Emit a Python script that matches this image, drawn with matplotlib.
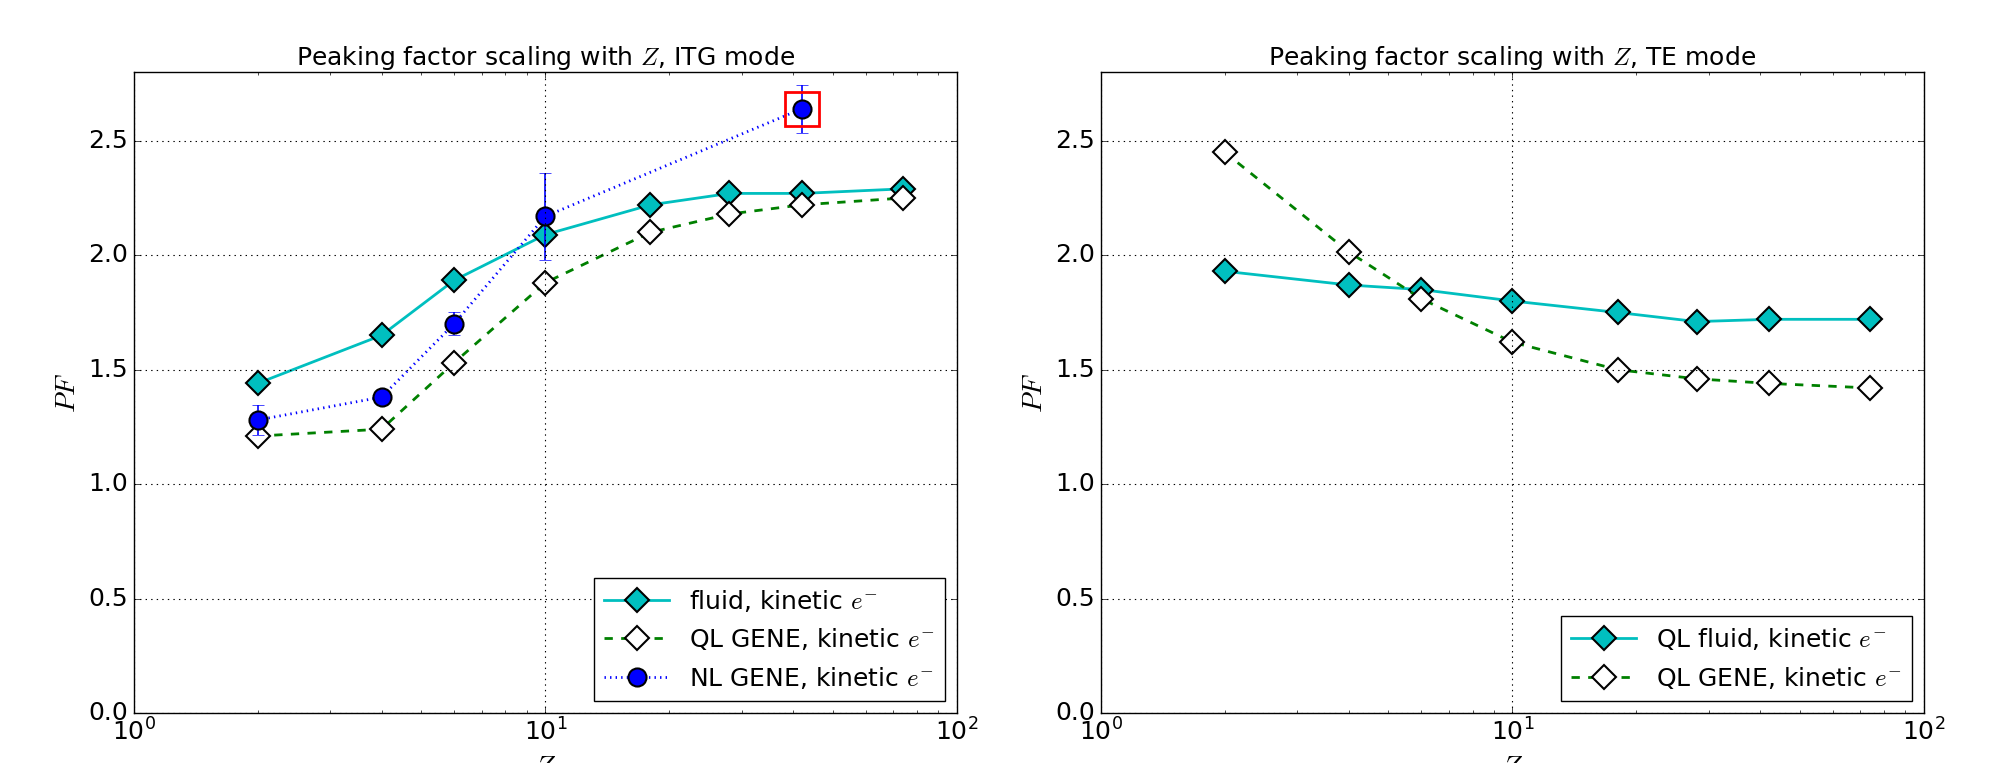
import numpy as np
import matplotlib
matplotlib.use('Agg')
import matplotlib.pyplot as plt

plt.style.use('classic')
plt.rcParams['figure.facecolor'] = 'white'
plt.rcParams['savefig.facecolor'] = 'white'
plt.rcParams['mathtext.fontset'] = 'cm'
plt.rcParams['font.family'] = ['DejaVu Sans']

# impurity charge numbers
Z = [2, 4, 6, 10, 18, 28, 42, 74]

# ITG mode
itg_fluid = [1.44, 1.65, 1.89, 2.09, 2.22, 2.27, 2.27, 2.29]
itg_ql = [1.21, 1.24, 1.53, 1.88, 2.10, 2.18, 2.22, 2.25]
Z_nl = [2, 4, 6, 10, 42]
itg_nl = [1.28, 1.38, 1.70, 2.17, 2.64]
itg_nl_err = [0.065, 0.02, 0.05, 0.19, 0.105]
Z_box = [42]
pf_box = [2.64]

# TE mode
te_fluid = [1.93, 1.87, 1.85, 1.80, 1.75, 1.71, 1.72, 1.72]
te_ql = [2.45, 2.015, 1.81, 1.62, 1.50, 1.46, 1.44, 1.42]

fig = plt.figure(figsize=(19.94, 7.63), dpi=100)
ax1 = fig.add_axes([0.067, 0.0655, 0.413, 0.84])
ax2 = fig.add_axes([0.552, 0.0655, 0.413, 0.84])

fs = 18
ms_d = 12
ms_o = 13

ax1.plot(Z, itg_fluid, 'c-', marker='D', mfc='c', mec='k', mew=1.5, ms=ms_d, lw=2,
         label=r'fluid, kinetic $e^{-}$')
ax1.plot(Z, itg_ql, 'g--', marker='D', mfc='w', mec='k', mew=1.5, ms=ms_d, lw=2,
         label=r'QL GENE, kinetic $e^{-}$')
ax1.errorbar(Z_nl, itg_nl, yerr=itg_nl_err, fmt='none', ecolor='b', capsize=4, elinewidth=1.2)
ax1.plot(Z_nl, itg_nl, 'b:', marker='o', mfc='b', mec='k', mew=1.5, ms=ms_o, lw=2,
         label=r'NL GENE, kinetic $e^{-}$')
ax1.plot(Z_box, pf_box, 's', mfc='none', mec='r', mew=2, ms=24)
ax1.set_title(r'Peaking factor scaling with $Z$, ITG mode', fontsize=fs)

ax2.plot(Z, te_fluid, 'c-', marker='D', mfc='c', mec='k', mew=1.5, ms=ms_d, lw=2,
         label=r'QL fluid, kinetic $e^{-}$')
ax2.plot(Z, te_ql, 'g--', marker='D', mfc='w', mec='k', mew=1.5, ms=ms_d, lw=2,
         label=r'QL GENE, kinetic $e^{-}$')
ax2.set_title(r'Peaking factor scaling with $Z$, TE mode', fontsize=fs)

for ax in (ax1, ax2):
    ax.set_xscale('log')
    ax.set_xlim(1, 100)
    ax.set_ylim(0, 2.8)
    ax.set_yticks([0.0, 0.5, 1.0, 1.5, 2.0, 2.5])
    ax.set_yticklabels(['0.0', '0.5', '1.0', '1.5', '2.0', '2.5'])
    ax.grid(True, color='k', linestyle=':', linewidth=0.8)
    ax.tick_params(labelsize=fs)
    ax.set_xlabel(r'$Z$', fontsize=fs + 2)
    ax.set_ylabel(r'$PF$', fontsize=fs + 2)
    leg = ax.legend(loc='lower right', numpoints=1, fontsize=fs, handlelength=2.6,
                    fancybox=False)

plt.savefig('out.png', dpi=100)
